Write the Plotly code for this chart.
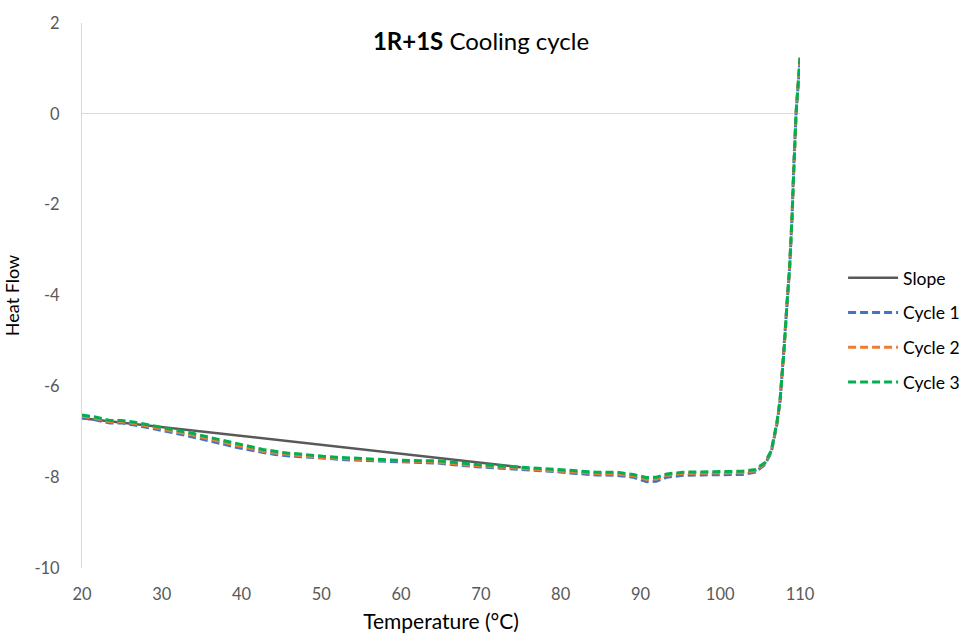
import plotly.graph_objects as go

# Temperature grid (°C) shared by the three cooling cycles
temperature = [20, 21.8, 23.5, 25, 26.6, 28.1, 29.5, 31, 32.5, 34, 35.4, 36.9, 38.3, 39.8,
               41.3, 42.7, 44.2, 45.7, 47.3, 48.8, 50.2, 51.9, 53.6, 55, 56.7, 58.4, 60,
               61.5, 63.2, 64.6, 66.3, 68, 69.5, 71.5, 74.5, 77, 79.5, 82, 84.5, 87, 89.1,
               90.8, 92, 93.3, 95.3, 97.8, 100.3, 102.8, 104.4, 105.6, 106.4, 107.1, 107.5,
               108.0, 108.4, 108.7, 109.0, 109.2, 109.5, 110]

cycle1 = [-6.69, -6.74, -6.81, -6.81, -6.85, -6.90, -6.96, -7.01, -7.06, -7.12, -7.18,
          -7.24, -7.29, -7.36, -7.41, -7.46, -7.50, -7.53, -7.55, -7.57, -7.59, -7.61,
          -7.62, -7.63, -7.64, -7.66, -7.67, -7.68, -7.68, -7.69, -7.72, -7.75, -7.77,
          -7.79, -7.82, -7.86, -7.88, -7.92, -7.95, -7.96, -8.00, -8.10, -8.09, -8.00,
          -7.96, -7.95, -7.94, -7.94, -7.89, -7.72, -7.45, -6.84, -6.33, -5.22, -4.12,
          -3.39, -2.29, -1.19, -0.02, 1.22]

cycle2 = [-6.66, -6.71, -6.78, -6.78, -6.82, -6.87, -6.93, -6.98, -7.03, -7.08, -7.14,
          -7.20, -7.25, -7.32, -7.37, -7.43, -7.47, -7.50, -7.52, -7.55, -7.57, -7.59,
          -7.60, -7.61, -7.62, -7.64, -7.65, -7.66, -7.66, -7.67, -7.70, -7.73, -7.75,
          -7.77, -7.80, -7.84, -7.86, -7.89, -7.92, -7.93, -7.97, -8.05, -8.04, -7.96,
          -7.92, -7.91, -7.90, -7.90, -7.86, -7.70, -7.43, -6.82, -6.31, -5.21, -4.11,
          -3.38, -2.28, -1.18, -0.01, 1.23]

cycle3 = [-6.63, -6.68, -6.75, -6.75, -6.79, -6.84, -6.90, -6.95, -6.99, -7.04, -7.10,
          -7.16, -7.21, -7.28, -7.33, -7.39, -7.43, -7.47, -7.49, -7.52, -7.54, -7.56,
          -7.58, -7.59, -7.60, -7.62, -7.63, -7.64, -7.64, -7.64, -7.67, -7.70, -7.72,
          -7.74, -7.77, -7.81, -7.83, -7.86, -7.89, -7.89, -7.94, -8.01, -8.00, -7.93,
          -7.89, -7.88, -7.87, -7.87, -7.83, -7.68, -7.42, -6.80, -6.30, -5.20, -4.10,
          -3.37, -2.27, -1.17, 0.00, 1.24]

# Linear baseline drawn under the cycles
slope_x = [20, 75]
slope_y = [-6.70, -7.78]

x_ticks = [20, 30, 40, 50, 60, 70, 80, 90, 100, 110]
y_ticks = [-10, -8, -6, -4, -2, 0, 2]
y_tick_text = ["-10", "-8", "-6", "-4", "-2", "0", "2"]

FONT = "Lato, 'Open Sans', sans-serif"
DASH = "8px,4px"

fig = go.Figure()
fig.add_trace(go.Scatter(x=slope_x, y=slope_y, mode="lines", name="Slope",
                         legendgroup="s", line=dict(color="#595959", width=2.5)))
fig.add_trace(go.Scatter(x=temperature, y=cycle1, mode="lines", name="Cycle 1",
                         legendgroup="c1",
                         line=dict(color="#4472C4", width=3, dash=DASH)))
fig.add_trace(go.Scatter(x=temperature, y=cycle2, mode="lines", name="Cycle 2",
                         legendgroup="c2",
                         line=dict(color="#ED7D31", width=3, dash=DASH)))
fig.add_trace(go.Scatter(x=temperature, y=cycle3, mode="lines", name="Cycle 3",
                         legendgroup="c3",
                         line=dict(color="#00B050", width=3, dash=DASH)))

fig.update_layout(
    width=962, height=639,
    margin=dict(l=82, r=162, t=23, b=71, autoexpand=False),
    paper_bgcolor="white", plot_bgcolor="white",
    font=dict(family=FONT, color="#595959", size=16),
    title=dict(text="<b>1R+1S</b> Cooling cycle", x=0.5,
               xanchor="center", y=0.935, yanchor="middle",
               font=dict(family=FONT, size=24, color="black")),
    showlegend=True,
    legend=dict(x=1.06, xanchor="left", y=0.437, yanchor="middle",
                font=dict(family=FONT, size=17.5, color="black"),
                tracegroupgap=9, itemwidth=50, bgcolor="rgba(0,0,0,0)"),
    xaxis=dict(range=[20, 110], tickvals=x_ticks, showgrid=False, zeroline=False,
               showline=False, ticks="", ticklabelstandoff=14,
               title=dict(text="Temperature (°C)", standoff=11,
                          font=dict(family=FONT, size=21, color="black")),
               tickfont=dict(size=16.5, color="#595959")),
    yaxis=dict(range=[-10, 2], tickvals=y_ticks, ticktext=y_tick_text, showgrid=False,
               zeroline=True, zerolinecolor="#D9D9D9", zerolinewidth=1,
               showline=True, linecolor="#D9D9D9", linewidth=1, ticks="",
               ticklabelstandoff=18,
               title=dict(text="Heat Flow", standoff=10,
                          font=dict(family=FONT, size=18, color="black")),
               tickfont=dict(size=16.5, color="#595959")),
)

fig.write_html("out.html")
